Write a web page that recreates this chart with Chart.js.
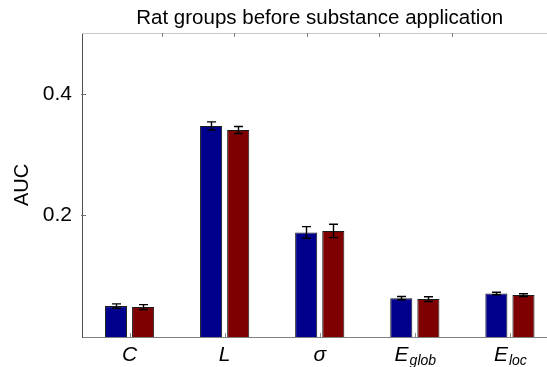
<!DOCTYPE html>
<html>
<head>
<meta charset="utf-8">
<script src="https://cdn.jsdelivr.net/npm/chart.js@4"></script>
<style>
html,body{margin:0;padding:0;background:#fff;overflow:hidden;}
#wrap{width:547px;height:367px;position:relative;}
</style>
</head>
<body>
<div id="wrap"><canvas id="c" width="547" height="367"></canvas></div>
<script>
// ---- data ----
const categories = ['C', 'L', 'σ', 'E', 'E'];
const categorySubscripts = ['', '', '', 'glob', 'loc'];
const groupA = [0.0508, 0.347, 0.172, 0.0639, 0.0716];
const groupAErr = [0.0036, 0.0068, 0.0095, 0.0027, 0.0020];
const groupB = [0.0492, 0.3405, 0.1744, 0.0623, 0.0689];
const groupBErr = [0.0040, 0.0057, 0.0110, 0.0038, 0.0022];
const yTicks = [0.2, 0.4];
const titleText = 'Rat groups before substance application';
const yTitle = 'AUC';

const FONT = "'Liberation Sans', Arial, Helvetica, sans-serif";
const positions = categories.map((_, i) => i + 1);
const toPts = arr => arr.map((v, i) => ({x: positions[i], y: v}));
const errs = [groupAErr, groupBErr];
const vals = [groupA, groupB];

const decoPlugin = {
  id: 'deco',
  afterDatasetsDraw(chart) {
    const ctx = chart.ctx;
    const xs = chart.scales.x, ys = chart.scales.y, xt = chart.scales.x2;
    const ca = chart.chartArea;
    ctx.save();
    // error bars
    ctx.strokeStyle = '#000';
    ctx.lineWidth = 1.4;
    chart.data.datasets.forEach((ds, di) => {
      const meta = chart.getDatasetMeta(di);
      meta.data.forEach((bar, i) => {
        const v = vals[di][i], e = errs[di][i];
        const yT = ys.getPixelForValue(v + e), yB = ys.getPixelForValue(v - e);
        const x = Math.round(bar.x) + 0.5;
        ctx.beginPath();
        ctx.moveTo(x, yT); ctx.lineTo(x, yB);
        ctx.moveTo(x - 4.5, yT); ctx.lineTo(x + 4.5, yT);
        ctx.moveTo(x - 4.5, yB); ctx.lineTo(x + 4.5, yB);
        ctx.stroke();
      });
    });
    // top frame line
    ctx.strokeStyle = '#c8c8c8';
    ctx.lineWidth = 1;
    ctx.beginPath();
    ctx.moveTo(ca.left, ca.top + 0.5); ctx.lineTo(ca.right, ca.top + 0.5);
    ctx.stroke();
    // top ticks (secondary axis)
    ctx.strokeStyle = '#808080';
    xt.ticks.forEach(t => {
      const x = Math.round(xt.getPixelForValue(t.value)) + 0.5;
      ctx.beginPath(); ctx.moveTo(x, ca.top); ctx.lineTo(x, ca.top + 4); ctx.stroke();
    });
    // bottom ticks (inward)
    ctx.strokeStyle = '#909090';
    positions.forEach(p => {
      const x = Math.round(xs.getPixelForValue(p)) + 0.5;
      ctx.beginPath(); ctx.moveTo(x, ca.bottom); ctx.lineTo(x, ca.bottom - 4); ctx.stroke();
    });
    // y ticks (inward)
    ctx.strokeStyle = '#707070';
    yTicks.forEach(v => {
      const y = Math.round(ys.getPixelForValue(v)) + 0.5;
      ctx.beginPath(); ctx.moveTo(ca.left - 1, y); ctx.lineTo(ca.left + 4, y); ctx.stroke();
    });
    // category labels
    ctx.fillStyle = '#000';
    ctx.textBaseline = 'alphabetic';
    ctx.textAlign = 'left';
    categories.forEach((c, i) => {
      const mainFont = 'italic 21px ' + FONT, subFont = 'italic 14px ' + FONT;
      ctx.font = mainFont;
      const w1 = ctx.measureText(c).width;
      ctx.font = subFont;
      const w2 = categorySubscripts[i] ? ctx.measureText(categorySubscripts[i]).width : 0;
      const cx = xs.getPixelForValue(positions[i]);
      const x0 = cx - (w1 + w2) / 2;
      ctx.font = mainFont;
      ctx.fillText(c, x0, ca.bottom + 24);
      if (w2) { ctx.font = subFont; ctx.fillText(categorySubscripts[i], x0 + w1 + 1, ca.bottom + 28); }
    });
    // title, centered over the full axes box
    ctx.font = '20.5px ' + FONT;
    ctx.textAlign = 'center';
    const fullRight = xs.getPixelForValue(5.5);
    ctx.fillText(titleText, (ca.left + fullRight) / 2, 24);
    ctx.restore();
  }
};

new Chart(document.getElementById('c'), {
  type: 'bar',
  data: {
    datasets: [
      {data: toPts(groupA), backgroundColor: '#00008c', borderColor: '#1a1a1a', borderWidth: 1,
       categoryPercentage: 0.57, barPercentage: 0.815, xAxisID: 'x'},
      {data: toPts(groupB), backgroundColor: '#7f0000', borderColor: '#1a1a1a', borderWidth: 1,
       categoryPercentage: 0.57, barPercentage: 0.815, xAxisID: 'x'}
    ]
  },
  options: {
    responsive: false,
    animation: false,
    layout: {padding: {top: 33, left: 0, right: 0, bottom: 0}},
    plugins: {legend: {display: false}, tooltip: {enabled: false}, title: {display: false}},
    scales: {
      x: {
        type: 'linear', position: 'bottom', min: 0.5, max: 5.39, offset: false,
        afterBuildTicks: s => { s.ticks = positions.map(v => ({value: v})); },
        afterFit: s => { s.height = 30; },
        ticks: {display: false},
        grid: {display: false, drawTicks: false},
        border: {display: true, color: '#808080', width: 1}
      },
      x2: {
        type: 'linear', position: 'top', min: 0.536, max: 5.674, display: false,
        afterBuildTicks: s => { s.ticks = positions.map(v => ({value: v})); }
      },
      y: {
        min: 0, max: 0.5,
        afterBuildTicks: s => { s.ticks = yTicks.map(v => ({value: v})); },
        afterFit: s => { s.width = 82; },
        ticks: {color: '#000', font: {family: FONT, size: 21}, padding: 10,
                callback: v => v.toFixed(1)},
        grid: {display: false, drawTicks: false},
        border: {display: true, color: '#505050', width: 1},
        title: {display: true, text: yTitle, color: '#000', font: {family: FONT, size: 20}, padding: {top: 10, bottom: 0}}
      }
    }
  },
  plugins: [decoPlugin]
});
</script>
</body>
</html>
